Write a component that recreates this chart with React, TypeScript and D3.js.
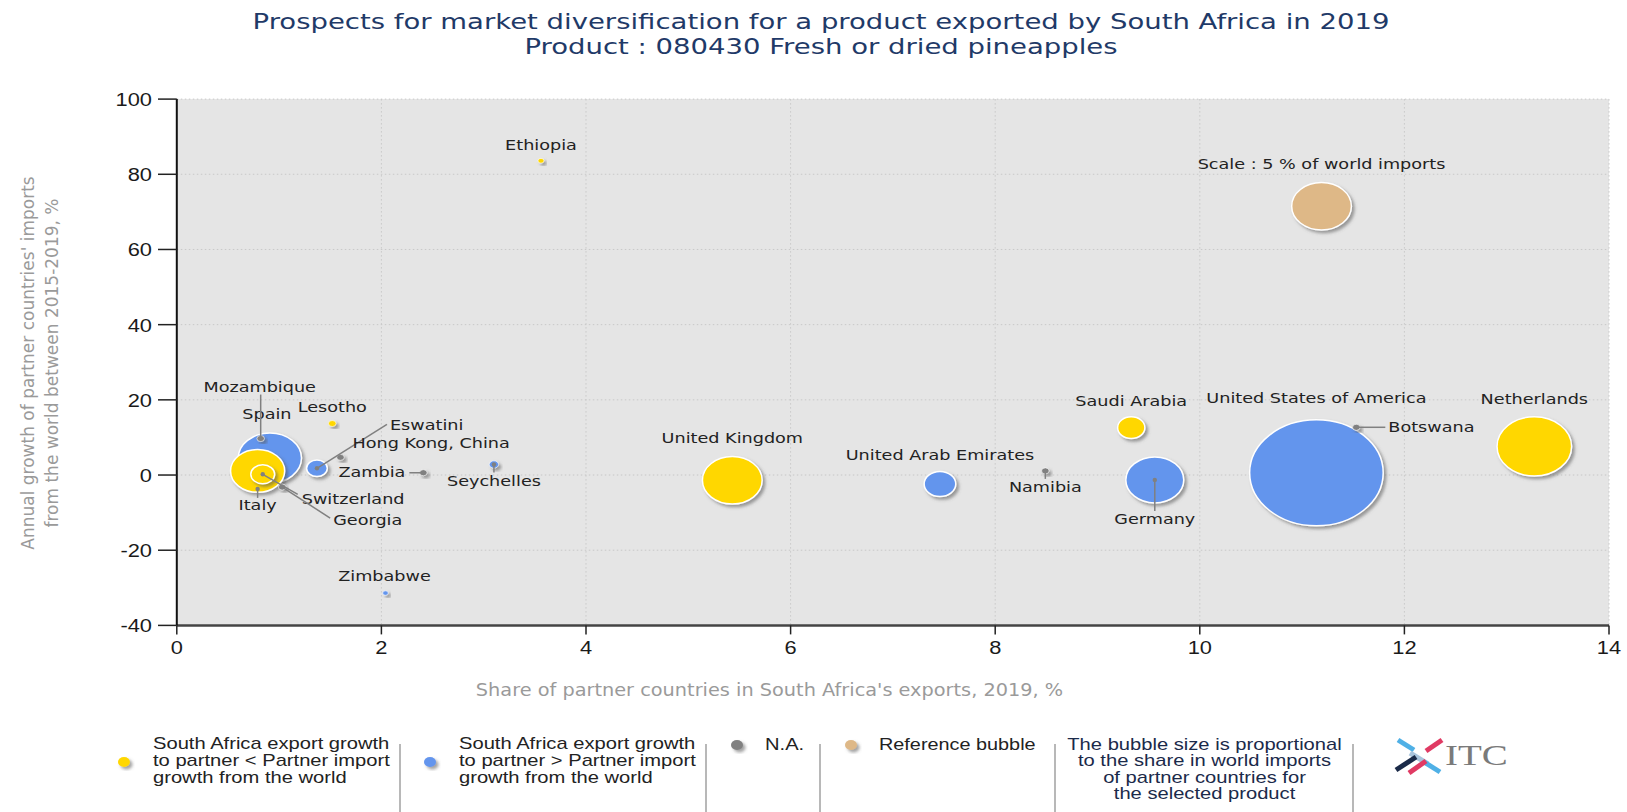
import React from 'react';
import * as d3 from 'd3';

// Bubble data
const countries = [
  'United States of America', 'Netherlands', 'Spain', 'Germany', 'United Kingdom',
  'Italy', 'United Arab Emirates', 'Saudi Arabia', 'Switzerland', 'Eswatini',
  'Seychelles', 'Lesotho', 'Ethiopia', 'Zimbabwe', 'Mozambique',
  'Hong Kong, China', 'Georgia', 'Zambia', 'Namibia', 'Botswana',
];
// share of partner in South Africa's exports, %
const exportShare = [11.14, 13.27, 0.91, 9.56, 5.43, 0.79, 7.46, 9.33, 0.84, 1.37, 3.10, 1.52, 3.56, 2.04, 0.82, 1.60, 1.03, 2.41, 8.49, 11.53];
// annual growth of partner imports 2015-2019, %
const importGrowth = [0.6, 7.6, 4.5, -1.3, -1.4, 1.1, -2.4, 12.6, 0.2, 1.8, 2.8, 13.7, 83.6, -31.4, 9.7, 4.7, -3.2, 0.6, 1.1, 12.7];
// share in world imports, %
const worldShare = [25.0, 7.8, 5.6, 4.7, 5.0, 4.1, 1.4, 1.04, 0.8, 0.6, 0.12, 0.08, 0.05, 0.04, 0.08, 0.08, 0.08, 0.08, 0.08, 0.08];
const groups = ['higher', 'lower', 'higher', 'higher', 'lower', 'lower', 'higher', 'lower', 'lower', 'higher', 'higher', 'lower', 'lower', 'higher', 'na', 'na', 'na', 'na', 'na', 'na'];

const refBubble = { x: 11.19, y: 71.5, share: 5 };

const xTicks = [0, 2, 4, 6, 8, 10, 12, 14];
const yTicks = [-40, -20, 0, 20, 40, 60, 80, 100];

const colors = { lower: '#FFD700', higher: '#6495ED', na: '#808080', ref: '#DEB887' };

// label placement (pixel offsets from bubble centre)
const labelPos = {
  'United States of America': { dx: 0, dy: -75 },
  'Netherlands': { dx: 0, dy: -47 },
  'Spain': { dx: -3, dy: -44 },
  'Germany': { dx: 0, dy: 39, lead: [0, 0, 0, 31] },
  'United Kingdom': { dx: 0, dy: -42 },
  'Italy': { dx: 0, dy: 34, lead: [0, 18, 0, 27] },
  'United Arab Emirates': { dx: 0, dy: -29 },
  'Saudi Arabia': { dx: 0, dy: -26 },
  'Switzerland': { dx: 39, dy: 25, anchor: 'start', lead: [0, 0, 35, 20] },
  'Eswatini': { dx: 73, dy: -43, anchor: 'start', lead: [0, 0, 70, -44] },
  'Seychelles': { dx: 0, dy: 17, lead: [0, 0, 0, 8] },
  'Lesotho': { dx: 0, dy: -16 },
  'Ethiopia': { dx: 0, dy: -16 },
  'Zimbabwe': { dx: -1, dy: -17 },
  'Mozambique': { dx: -1, dy: -51, lead: [0, 0, 0, -44] },
  'Hong Kong, China': { dx: 12, dy: -14, anchor: 'start' },
  'Georgia': { dx: 51, dy: 33, anchor: 'start', lead: [0, 0, 48, 31] },
  'Zambia': { dx: -18, dy: -1, anchor: 'end', lead: [0, 0, -14, 0] },
  'Namibia': { dx: 0, dy: 16, lead: [0, 0, 0, 8] },
  'Botswana': { dx: 32, dy: 0, anchor: 'start', lead: [0, 0, 29, 0] },
};

const legendLeft = ['South Africa export growth', 'to partner < Partner import', 'growth from the world'];
const legendRight = ['South Africa export growth', 'to partner > Partner import', 'growth from the world'];
const legendNote = ['The bubble size is proportional', 'to the share in world imports', 'of partner countries for', 'the selected product'];

const SANS = '"DejaVu Sans", Verdana, sans-serif';
const ARIAL = '"Liberation Sans", Arial, sans-serif';
const ELL = 1.26; // bubbles are drawn slightly wider than tall

const T = ({ x, y, sx = 1, anchor = 'start', size, fill = '#222', family = SANS, base, children }: any) => (
  <text
    transform={`translate(${x},${y}) scale(${sx},1)`}
    textAnchor={anchor}
    fontSize={size}
    fill={fill}
    fontFamily={family}
    dominantBaseline={base}
  >
    {children}
  </text>
);

export default function App() {
  const x = d3.scaleLinear().domain([0, 14]).range([176.8, 1609]);
  const y = d3.scaleLinear().domain([-40, 100]).range([625.4, 99.1]);
  const r = d3.scaleSqrt().domain([0, 5]).range([0, 23.7]);

  const data = countries.map((name, i) => ({
    name,
    cx: x(exportShare[i]),
    cy: y(importGrowth[i]),
    ry: Math.max(r(worldShare[i]), 2.2),
    color: colors[groups[i]],
  }));
  const drawOrder = [...data].sort((a, b) => b.ry - a.ry);

  const refR = r(refBubble.share);
  const rx0 = x(refBubble.x), ry0 = y(refBubble.y);

  return (
    <svg width={1627} height={812} style={{ position: 'absolute', left: 0, top: 0, background: '#fff' }}>
      <defs>
        <filter id="shadow" x="-30%" y="-30%" width="170%" height="170%">
          <feDropShadow dx="2.5" dy="2.5" stdDeviation="1.5" floodColor="#555" floodOpacity="0.55" />
        </filter>
      </defs>

      {/* title */}
      <T x={821} y={29} sx={1.25} anchor="middle" size={22} fill="#1f3a68">
        Prospects for market diversification for a product exported by South Africa in 2019
      </T>
      <T x={821} y={54} sx={1.25} anchor="middle" size={22} fill="#1f3a68">
        Product : 080430 Fresh or dried pineapples
      </T>

      {/* plot area */}
      <rect x={x(0)} y={y(100)} width={x(14) - x(0)} height={y(-40) - y(100)} fill="#e5e5e5" />
      {xTicks.slice(1).map(t => (
        <line key={'gx' + t} x1={x(t)} x2={x(t)} y1={y(100)} y2={y(-40)} stroke="#c8c8c8" strokeDasharray="1.5,2.5" />
      ))}
      {yTicks.slice(1).map(t => (
        <line key={'gy' + t} x1={x(0)} x2={x(14)} y1={y(t)} y2={y(t)} stroke="#c8c8c8" strokeDasharray="1.5,2.5" />
      ))}

      {/* axes */}
      <line x1={x(0)} x2={x(14)} y1={y(-40)} y2={y(-40)} stroke="#444" strokeWidth={2.5} />
      <line x1={x(0)} x2={x(0)} y1={y(100)} y2={y(-40)} stroke="#111" strokeWidth={2} />
      {yTicks.map(t => (
        <g key={'ty' + t}>
          <line x1={158} x2={x(0)} y1={y(t)} y2={y(t)} stroke="#222" strokeWidth={1.5} />
          <T x={152} y={y(t)} sx={1.15} anchor="end" size={19} family={ARIAL} base="central" fill="#1a1a1a">{t}</T>
        </g>
      ))}
      {xTicks.map(t => (
        <g key={'tx' + t}>
          <line x1={x(t)} x2={x(t)} y1={y(-40)} y2={y(-40) + 9} stroke="#222" strokeWidth={1.5} />
          <T x={x(t)} y={654} sx={1.15} anchor="middle" size={19} family={ARIAL} fill="#1a1a1a">{t}</T>
        </g>
      ))}

      {/* axis titles */}
      <T x={769.5} y={696} sx={1.136} anchor="middle" size={17} fill="#9a9a9a">
        Share of partner countries in South Africa's exports, 2019, %
      </T>
      <text transform="translate(34,363) rotate(-90)" textAnchor="middle" fontSize={17} fill="#9a9a9a" fontFamily={SANS}>
        Annual growth of partner countries' imports
      </text>
      <text transform="translate(58,363) rotate(-90)" textAnchor="middle" fontSize={17} fill="#9a9a9a" fontFamily={SANS}>
        from the world between 2015-2019, %
      </text>

      {/* reference bubble */}
      <ellipse cx={rx0} cy={ry0} rx={refR * ELL} ry={refR} fill={colors.ref} stroke="#fff" strokeWidth={1.5} filter="url(#shadow)" />
      <T x={rx0} y={ry0 - 42} sx={1.26} anchor="middle" size={14} base="central">Scale : 5 % of world imports</T>

      {/* bubbles */}
      {drawOrder.map(d => (
        <ellipse key={d.name} cx={d.cx} cy={d.cy} rx={d.ry * ELL} ry={d.ry} fill={d.color}
          stroke="#fff" strokeWidth={d.ry > 4 ? 1.5 : 0.6} filter="url(#shadow)" />
      ))}

      {/* leader lines and labels */}
      {data.map(d => {
        const p = labelPos[d.name];
        return (
          <g key={'l' + d.name}>
            {p.lead && (
              <line x1={d.cx + p.lead[0]} y1={d.cy + p.lead[1]} x2={d.cx + p.lead[2]} y2={d.cy + p.lead[3]}
                stroke="#808080" strokeWidth={1.5} />
            )}
            {p.lead && <circle cx={d.cx + p.lead[0]} cy={d.cy + p.lead[1]} r={2.2} fill="#808080" />}
            <T x={d.cx + p.dx} y={d.cy + p.dy} sx={1.26} anchor={p.anchor || 'middle'} size={14} base="central">
              {d.name}
            </T>
          </g>
        );
      })}

      {/* legend */}
      {[400, 706, 820, 1055, 1353].map(sx => (
        <line key={'sep' + sx} x1={sx} x2={sx} y1={744} y2={812} stroke="#a0a0a0" strokeWidth={1.5} />
      ))}
      <ellipse cx={124} cy={762} rx={6} ry={5} fill={colors.lower} filter="url(#shadow)" />
      {legendLeft.map((s, i) => (
        <T key={'ll' + i} x={153} y={749 + i * 17} sx={1.26} size={16} family={ARIAL}>{s}</T>
      ))}
      <ellipse cx={430} cy={762} rx={6} ry={5} fill={colors.higher} filter="url(#shadow)" />
      {legendRight.map((s, i) => (
        <T key={'lr' + i} x={459} y={749 + i * 17} sx={1.26} size={16} family={ARIAL}>{s}</T>
      ))}
      <ellipse cx={737} cy={745} rx={6} ry={5} fill={colors.na} filter="url(#shadow)" />
      <T x={765} y={750} sx={1.26} size={16} family={ARIAL}>N.A.</T>
      <ellipse cx={851} cy={745} rx={6} ry={5} fill={colors.ref} filter="url(#shadow)" />
      <T x={879} y={750} sx={1.24} size={16} family={ARIAL}>Reference bubble</T>
      {legendNote.map((s, i) => (
        <T key={'ln' + i} x={1204.5} y={749.5 + i * 16.5} sx={1.26} anchor="middle" size={16} family={ARIAL} fill="#1b2a4a">{s}</T>
      ))}

      {/* ITC logo */}
      <g strokeWidth={5} strokeLinecap="butt">
        <line x1={1398} y1={740} x2={1414} y2={750} stroke="#4fb0e6" />
        <line x1={1426} y1={751} x2={1442} y2={740} stroke="#e03a63" />
        <line x1={1410} y1={753} x2={1428} y2={764} stroke="#a9c4dc" />
        <line x1={1396} y1={770} x2={1416} y2={757} stroke="#1a2a48" />
        <line x1={1424} y1={762} x2={1440} y2={772} stroke="#4fb0e6" />
        <line x1={1409} y1={773} x2={1426} y2={761} stroke="#e03a63" />
      </g>
      <T x={1445} y={765} sx={1.3} size={30} family='"Liberation Serif", serif' fill="#7a7a7a">ITC</T>
    </svg>
  );
}
